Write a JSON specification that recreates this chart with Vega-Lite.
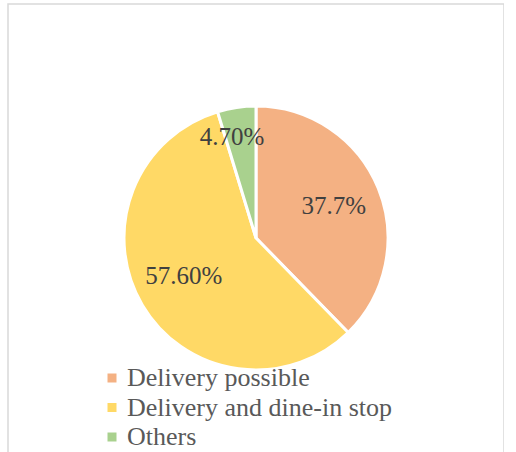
{
  "$schema": "https://vega.github.io/schema/vega-lite/v6.json",
  "width": 496,
  "height": 468,
  "padding": {"left": 8, "top": 4, "right": 0, "bottom": 0},
  "background": "white",
  "view": {"stroke": "#d9d9d9", "strokeWidth": 1.5},
  "config": {
    "view": {"stroke": "#d9d9d9", "strokeWidth": 1.5},
    "font": "Liberation Serif"
  },
  "data": {
    "values": [
      {"category": "Delivery possible", "value": 37.7, "label": "37.7%", "order": 1},
      {"category": "Delivery and dine-in stop", "value": 57.6, "label": "57.60%", "order": 2},
      {"category": "Others", "value": 4.7, "label": "4.70%", "order": 3}
    ]
  },
  "encoding": {
    "theta": {"field": "value", "type": "quantitative", "stack": true},
    "order": {"field": "order", "type": "quantitative"}
  },
  "layer": [
    {
      "mark": {"type": "arc", "outerRadius": 132, "stroke": "white", "strokeWidth": 3},
      "encoding": {
        "color": {
          "field": "category",
          "type": "nominal",
          "scale": {
            "domain": ["Delivery possible", "Delivery and dine-in stop", "Others"],
            "range": ["#F4B183", "#FFD966", "#A9D18E"]
          },
          "legend": {
            "title": null,
            "orient": "none",
            "legendX": 91,
            "legendY": 361,
            "direction": "vertical",
            "symbolType": "square",
            "symbolSize": 81,
            "symbolStrokeWidth": 0,
            "labelFont": "Liberation Serif",
            "labelFontSize": 26,
            "labelColor": "#595959",
            "labelLimit": 500,
            "rowPadding": 3.5,
            "labelOffset": 2
          }
        }
      }
    },
    {
      "mark": {
        "type": "text",
        "radius": {"expr": "datum.category == 'Others' ? 102 : 84"},
        "dx": {"expr": "datum.category == 'Others' ? -9 : 0"},
        "dy": {"expr": "datum.category == 'Delivery and dine-in stop' ? -5 : 0"},
        "font": "Liberation Serif",
        "fontSize": 25,
        "color": "#404040"
      },
      "encoding": {"text": {"field": "label"}}
    }
  ]
}
